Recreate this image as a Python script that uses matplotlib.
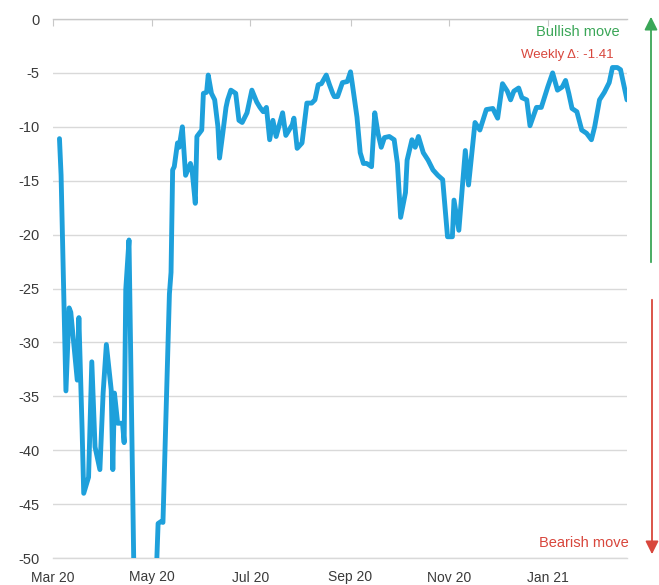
import matplotlib
matplotlib.use("Agg")
import matplotlib.pyplot as plt
from matplotlib.patches import FancyArrowPatch
import pandas as pd

plt.rcParams["font.family"] = ["Liberation Sans", "DejaVu Sans"]

# Positioning index readings (daily observations)
dates = [
    "2020-03-05", "2020-03-06", "2020-03-09", "2020-03-11", "2020-03-12", "2020-03-16",
    "2020-03-17", "2020-03-19", "2020-03-20", "2020-03-23", "2020-03-25", "2020-03-27",
    "2020-03-30", "2020-04-01", "2020-04-03", "2020-04-06", "2020-04-07", "2020-04-08",
    "2020-04-10", "2020-04-13", "2020-04-14", "2020-04-15", "2020-04-17", "2020-04-20",
    "2020-04-24", "2020-04-28", "2020-05-01", "2020-05-04", "2020-05-05", "2020-05-07",
    "2020-05-08", "2020-05-12", "2020-05-13", "2020-05-14", "2020-05-15", "2020-05-17",
    "2020-05-18", "2020-05-20", "2020-05-22", "2020-05-25", "2020-05-26", "2020-05-28",
    "2020-05-29", "2020-06-01", "2020-06-02", "2020-06-04", "2020-06-05", "2020-06-07",
    "2020-06-09", "2020-06-11", "2020-06-12", "2020-06-14", "2020-06-16", "2020-06-17",
    "2020-06-19", "2020-06-22", "2020-06-24", "2020-06-26", "2020-06-29", "2020-07-02",
    "2020-07-05", "2020-07-07", "2020-07-09", "2020-07-11", "2020-07-13", "2020-07-15",
    "2020-07-17", "2020-07-21", "2020-07-23", "2020-07-27", "2020-07-28", "2020-07-30",
    "2020-08-02", "2020-08-05", "2020-08-08", "2020-08-10", "2020-08-12", "2020-08-14",
    "2020-08-17", "2020-08-19", "2020-08-21", "2020-08-22", "2020-08-24", "2020-08-27",
    "2020-08-30", "2020-09-01", "2020-09-02", "2020-09-05", "2020-09-07", "2020-09-09",
    "2020-09-11", "2020-09-14", "2020-09-16", "2020-09-18", "2020-09-20", "2020-09-22",
    "2020-09-25", "2020-09-28", "2020-09-30", "2020-10-02", "2020-10-05", "2020-10-06",
    "2020-10-09", "2020-10-11", "2020-10-13", "2020-10-16", "2020-10-19", "2020-10-22",
    "2020-10-25", "2020-10-28", "2020-10-31", "2020-11-03", "2020-11-04", "2020-11-07",
    "2020-11-11", "2020-11-13", "2020-11-17", "2020-11-20", "2020-11-23", "2020-11-24",
    "2020-11-28", "2020-12-01", "2020-12-04", "2020-12-07", "2020-12-09", "2020-12-11",
    "2020-12-14", "2020-12-16", "2020-12-19", "2020-12-21", "2020-12-25", "2020-12-28",
    "2021-01-01", "2021-01-04", "2021-01-07", "2021-01-10", "2021-01-12", "2021-01-14",
    "2021-01-16", "2021-01-19", "2021-01-22", "2021-01-25", "2021-01-28", "2021-01-30",
    "2021-02-02", "2021-02-05", "2021-02-08", "2021-02-10", "2021-02-13", "2021-02-15",
    "2021-02-19",
]
values = [
    -11.1, -14.5, -34.5, -26.8, -27.2, -33.5,
    -27.7, -38.1, -44.0, -42.5, -31.8, -39.7,
    -41.8, -34.7, -30.2, -34.4, -41.8, -34.7,
    -37.5, -37.5, -39.3, -25.1, -20.5, -51.0,
    -60.0, -62.0, -58.0, -51.0, -46.8, -46.6,
    -46.7, -25.5, -23.5, -14.0, -13.7, -11.5,
    -11.9, -10.0, -14.5, -13.4, -14.0, -17.1,
    -10.9, -10.3, -6.9, -6.8, -5.2, -6.9,
    -7.5, -10.0, -12.9, -10.6, -8.2, -7.5,
    -6.6, -6.9, -9.4, -9.6, -8.7, -6.6,
    -7.7, -8.2, -8.6, -8.2, -11.2, -9.4,
    -10.9, -8.7, -10.8, -9.8, -9.2, -12.0,
    -11.5, -7.8, -7.8, -7.5, -6.1, -6.0,
    -5.2, -6.1, -6.9, -7.2, -7.2, -5.9,
    -5.8, -4.9, -5.9, -9.1, -12.4, -13.4,
    -13.4, -13.7, -8.7, -10.6, -11.9, -11.0,
    -10.9, -11.2, -13.4, -18.4, -16.1, -13.1,
    -11.2, -11.9, -10.9, -12.4, -13.1, -14.0,
    -14.5, -14.9, -20.2, -20.2, -16.8, -19.6,
    -12.2, -15.4, -9.6, -10.3, -8.9, -8.4,
    -8.3, -9.2, -6.0, -6.7, -7.5, -6.7,
    -6.4, -7.3, -7.5, -9.9, -8.2, -8.2,
    -6.3, -5.0, -6.6, -6.3, -5.7, -6.9,
    -8.3, -8.6, -10.3, -10.6, -11.2, -10.0,
    -7.5, -6.8, -5.9, -4.5, -4.5, -4.7,
    -7.5,
]
x_ticks = ["2020-03-01", "2020-05-01", "2020-07-01", "2020-09-01", "2020-11-01", "2021-01-01"]
x_tick_labels = ["Mar 20", "May 20", "Jul 20", "Sep 20", "Nov 20", "Jan 21"]
y_ticks = [0, -5, -10, -15, -20, -25, -30, -35, -40, -45, -50]
weekly_change = -1.41

W, H = 659, 585
fig = plt.figure(figsize=(W / 100, H / 100), dpi=100)
ax = fig.add_axes([53 / W, 1 - 558 / H, (627 - 53) / W, (558 - 19) / H])

x = pd.to_datetime(dates)
ax.plot(x, values, color="#1ea0db", lw=3.5, solid_joinstyle="round",
        solid_capstyle="round", zorder=3)

ax.set_ylim(-50, 0)
ax.set_xlim(pd.Timestamp("2020-03-01"), pd.Timestamp("2021-02-19"))
ax.set_yticks(y_ticks)
ax.set_yticklabels([str(v) for v in y_ticks])
ax.set_xticks(pd.to_datetime(x_ticks))
ax.set_xticklabels(x_tick_labels)

ax.grid(axis="y", color="#d9d9d9", lw=1.0, zorder=0)
ax.grid(axis="x", visible=False)
for side in ("left", "right"):
    ax.spines[side].set_visible(False)
ax.spines["bottom"].set_color("#d9d9d9")
ax.spines["bottom"].set_linewidth(1.0)
ax.spines["top"].set_color("#c8c8c8")
ax.spines["top"].set_linewidth(1.0)

ax.tick_params(axis="y", left=False, labelsize=10.5, labelcolor="#3a3a3a", pad=6)
ax.tick_params(axis="x", bottom=False, top=True, labelbottom=True, labeltop=False,
               direction="in", length=5, color="#c8c8c8", labelsize=10,
               labelcolor="#3a3a3a", pad=9)

green = "#3aa657"
red = "#d8463c"
fig.text(620 / W, 1 - 32 / H, "Bullish move", color=green, fontsize=10.5,
         ha="right", va="center")
fig.text(614 / W, 1 - 55 / H, f"Weekly \u0394: {weekly_change:.2f}", color=red,
         fontsize=9.5, ha="right", va="center")
fig.text(629 / W, 1 - 543 / H, "Bearish move", color=red, fontsize=10.5,
         ha="right", va="center")

fig.add_artist(FancyArrowPatch((651 / W, 1 - 265 / H), (651 / W, 1 - 14 / H),
                               transform=fig.transFigure,
                               arrowstyle="-|>,head_length=6,head_width=3",
                               color=green, lw=1.3, mutation_scale=1.3))
fig.add_artist(FancyArrowPatch((652 / W, 1 - 297 / H), (652 / W, 1 - 557 / H),
                               transform=fig.transFigure,
                               arrowstyle="-|>,head_length=6,head_width=3",
                               color=red, lw=1.3, mutation_scale=1.3))

fig.savefig("out.png", dpi=100)
